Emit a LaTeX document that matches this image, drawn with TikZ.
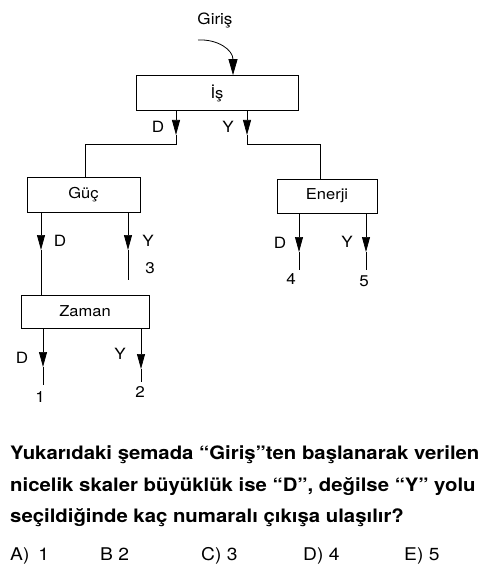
\documentclass[tikz,border=0pt]{standalone}
\usepackage{fontspec}
\setmainfont[FakeStretch=1.1]{TeX Gyre Heros}
\usetikzlibrary{arrows.meta}
\begin{document}
\begin{tikzpicture}[x=1pt,y=-1pt,
  box/.style={draw, line width=0.7pt, inner sep=0pt, font=\fontsize{15}{17}\selectfont},
  ln/.style={line width=0.7pt},
  tipa/.style={line width=0.7pt, -{Triangle[width=8pt,length=15pt]}},
  lbl/.style={font=\fontsize{15.5}{17}\selectfont, inner sep=0pt},
  qtext/.style={font=\fontsize{18.5}{32}\selectfont\bfseries, anchor=base west, inner sep=0pt},
  ans/.style={font=\fontsize{17.5}{20}\selectfont, anchor=base west, inner sep=0pt}]
\useasboundingbox (0,0) rectangle (491,585);
% boxes
\node[box, minimum width=162pt, minimum height=35pt] (is) at (217,93) {İş};
\node[box, minimum width=113pt, minimum height=35pt] (guc) at (83.5,194.5) {Güç};
\node[box, minimum width=128pt, minimum height=33pt] (zaman) at (85,311.5) {Zaman};
\node[box, minimum width=100pt, minimum height=34pt] (enerji) at (327,196) {Enerji};
% entry
\node[lbl] (giris) at (215,20) {Giriş};
\coordinate (gs) at (198,40);
\draw[line width=0.8pt, -{Triangle[width=9pt,length=16pt]}] (gs) .. controls (218,39) and (233,50) .. (is.north -| 233,0);
% Is branches
\coordinate (isDt) at (176,135);
\coordinate (isDc) at (176,144);
\coordinate (isYt) at (247,135);
\coordinate (isYc) at (247,144);
\draw[tipa] (is.south -| isDt) -- (isDt);
\draw[ln] (isDt) -- (isDc) -- (85,144) -- (guc.north -| 85,0);
\draw[tipa] (is.south -| isYt) -- (isYt);
\draw[ln] (isYt) -- (isYc) -- (320,144) -- (enerji.north -| 320,0);
\node[lbl] (lisD) at (158,127) {D};
\node[lbl] (lisY) at (228,127) {Y};
% Guc branches
\coordinate (gDt) at (41,250);
\coordinate (gYt) at (128,250);
\coordinate (gYe) at (128,280);
\draw[tipa] (guc.south -| gDt) -- (gDt);
\draw[ln] (gDt) -- (zaman.north -| gDt);
\draw[tipa] (guc.south -| gYt) -- (gYt);
\draw[ln] (gYt) -- (gYe);
\node[lbl] (lgD) at (60,241) {D};
\node[lbl] (lgY) at (148,241) {Y};
\node[lbl] (n3) at (150,268) {3};
% Zaman branches
\coordinate (zDt) at (43,367);
\coordinate (zDe) at (43,385);
\coordinate (zYt) at (141,369);
\coordinate (zYe) at (141,382);
\draw[tipa] (zaman.south -| zDt) -- (zDt);
\draw[ln] (zDt) -- (zDe);
\draw[tipa] (zaman.south -| zYt) -- (zYt);
\draw[ln] (zYt) -- (zYe);
\node[lbl] (lzD) at (22,358) {D};
\node[lbl] (lzY) at (120,354) {Y};
\node[lbl] (n1) at (40,397) {1};
\node[lbl] (n2) at (140,392) {2};
% Enerji branches
\coordinate (eDt) at (299,252);
\coordinate (eDe) at (299,270);
\coordinate (eYt) at (366,252);
\coordinate (eYe) at (366,270);
\draw[tipa] (enerji.south -| eDt) -- (eDt);
\draw[ln] (eDt) -- (eDe);
\draw[tipa] (enerji.south -| eYt) -- (eYt);
\draw[ln] (eYt) -- (eYe);
\node[lbl] (leD) at (280,243) {D};
\node[lbl] (leY) at (347,242) {Y};
\node[lbl] (n4) at (291,279) {4};
\node[lbl] (n5) at (364,281) {5};
% question
\node[qtext] (q1) at (10,459) {Yukarıdaki şemada “Giriş”ten başlanarak verilen};
\node[qtext] (q2) at (10,491) {nicelik skaler büyüklük ise “D”, değilse “Y” yolu};
\node[qtext] (q3) at (10,522) {seçildiğinde kaç numaralı çıkışa ulaşılır?};
\node[ans] (a) at (10,560) {A)\hspace{9pt}1};
\node[ans] (b) at (100,560) {B 2};
\node[ans] (c) at (201,560) {C) 3};
\node[ans] (d) at (303,560) {D) 4};
\node[ans] (e) at (404,560) {E) 5};
\end{tikzpicture}
\end{document}
